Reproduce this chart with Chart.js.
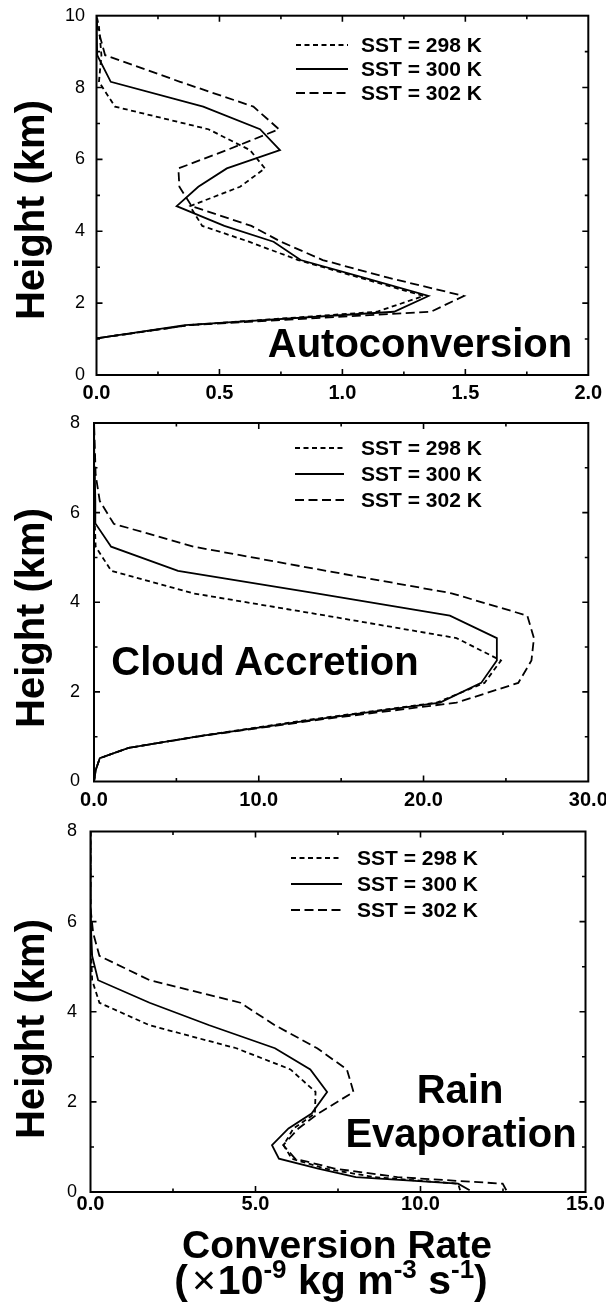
<!DOCTYPE html>
<html>
<head>
<meta charset="utf-8">
<script src="https://cdn.jsdelivr.net/npm/chart.js@4.4.1/dist/chart.umd.min.js"></script>
<style>
  html, body { margin: 0; padding: 0; background: #fff; }
  #fig { position: relative; width: 606px; height: 1308px; overflow: hidden; background: #fff; }
  #fig canvas { position: absolute; left: 0; }
  .lbl { position: absolute; white-space: nowrap; font-family: 'Liberation Sans', Arial, Helvetica, sans-serif;
         font-weight: bold; color: #000; line-height: 1; }
  .sup { font-size: 26px; position: relative; top: -16px; }
  .times { font-weight: normal; margin: 0 2px 0 4px; }
</style>
</head>
<body>
<div id="fig">
  <canvas id="c1" width="606" height="410" style="top:0px"></canvas>
  <canvas id="c2" width="606" height="410" style="top:410px"></canvas>
  <canvas id="c3" width="606" height="488" style="top:820px"></canvas>
</div>
<script>
// ---- Autoconversion (height in km, rate in 1e-9 kg m-3 s-1) ----
const autoHeights = [1.02, 1.39, 1.76, 2.2, 2.7, 3.2, 3.71, 4.15, 4.7, 5.24, 5.75, 6.26, 6.84, 7.47, 8.16, 8.9, 9.7, 10];
const auto298 = [0, 0.38, 1.14, 1.33, 1.075, 0.82, 0.62, 0.43, 0.38, 0.584, 0.685, 0.624, 0.455, 0.075, 0.01, 0.02, 0.01, 0];
const auto300 = [0, 0.36, 1.21, 1.35, 1.09, 0.83, 0.72, 0.52, 0.326, 0.414, 0.53, 0.746, 0.665, 0.434, 0.058, 0.003, 0, 0];
const auto302 = [0, 0.38, 1.36, 1.494, 1.19, 0.92, 0.75, 0.63, 0.387, 0.337, 0.333, 0.53, 0.742, 0.638, 0.34, 0.035, 0.003, 0];

// ---- Cloud accretion ----
const accHeights = [0, 0.25, 0.52, 0.75, 1.02, 1.39, 1.76, 2.2, 2.7, 3.2, 3.7, 4.2, 4.7, 5.24, 5.75, 6.26, 6.84, 7.47, 8];
const acc298 = [0, 0.1, 0.35, 2.1, 6.5, 13.3, 20.8, 23.7, 24.7, 22.0, 14.1, 6.0, 1.05, 0.1, 0.05, 0.03, 0.02, 0.01, 0];
const acc300 = [0, 0.1, 0.35, 2.1, 6.5, 13.6, 21.0, 23.5, 24.45, 24.45, 21.6, 13.5, 5.1, 1.04, 0.1, 0.08, 0.05, 0.02, 0];
const acc302 = [0, 0.1, 0.35, 2.1, 6.6, 13.9, 22.0, 25.75, 26.55, 26.7, 26.3, 21.7, 14.1, 6.05, 1.2, 0.35, 0.1, 0.05, 0];

// ---- Rain evaporation ----
const evapHeights = [0.04, 0.185, 0.33, 0.52, 0.74, 1.04, 1.41, 1.74, 2.22, 2.72, 3.19, 3.7, 4.2, 4.7, 5.24, 5.75, 6.3, 7.0, 8.0];
const evap298 = [11.2, 11.14, 8.6, 7.1, 6.1, 5.85, 6.15, 6.8, 6.82, 6.06, 4.42, 1.79, 0.27, 0.05, 0.02, 0, 0, 0, 0];
const evap300 = [11.49, 11.14, 8.04, 6.9, 5.71, 5.5, 6.0, 6.7, 7.17, 6.66, 5.59, 3.6, 1.79, 0.23, 0.05, 0.02, 0, 0, 0];
const evap302 = [12.6, 12.49, 9.3, 7.4, 6.2, 5.84, 6.3, 6.9, 7.97, 7.77, 6.87, 5.59, 4.54, 1.79, 0.27, 0.08, 0, 0, 0];

// ---- series labels and line styles ----
const seriesLabels = ['SST = 298 K', 'SST = 300 K', 'SST = 302 K'];
const seriesDash = [[5, 3.5], [], [9, 4.5]];

const FONT = "'Liberation Sans', Arial, Helvetica, sans-serif";
Chart.defaults.font.family = FONT;
Chart.defaults.color = '#000';

// Box frame with inward major/minor tick marks on all four sides
const frameTicks = {
  id: 'frameTicks',
  afterDatasetsDraw(chart, args, o) {
    const { ctx, chartArea: a, scales: { x, y } } = chart;
    ctx.save();
    ctx.strokeStyle = '#000';
    ctx.lineWidth = 1.6;
    ctx.beginPath();
    const nx = Math.round((x.max - x.min) / o.xMinor);
    for (let i = 1; i < nx; i++) {
      const v = x.min + i * o.xMinor;
      const px = x.getPixelForValue(v);
      const major = Math.abs(v / o.xMajor - Math.round(v / o.xMajor)) < 1e-6;
      const len = major ? 6 : 3.5;
      ctx.moveTo(px, a.bottom); ctx.lineTo(px, a.bottom - len);
      ctx.moveTo(px, a.top); ctx.lineTo(px, a.top + len);
    }
    const ny = Math.round((y.max - y.min) / o.yMinor);
    for (let i = 1; i < ny; i++) {
      const v = y.min + i * o.yMinor;
      const py = y.getPixelForValue(v);
      const major = Math.abs(v / o.yMajor - Math.round(v / o.yMajor)) < 1e-6;
      const len = major ? 6 : 3.5;
      ctx.moveTo(a.left, py); ctx.lineTo(a.left + len, py);
      ctx.moveTo(a.right, py); ctx.lineTo(a.right - len, py);
    }
    ctx.stroke();
    ctx.lineWidth = 2;
    ctx.strokeRect(a.left, a.top, a.right - a.left, a.bottom - a.top);
    ctx.restore();
  }
};

// Line-style key drawn inside the plot box
const lineKey = {
  id: 'lineKey',
  afterDatasetsDraw(chart, args, o) {
    const { ctx, chartArea: a } = chart;
    ctx.save();
    ctx.strokeStyle = '#000';
    ctx.fillStyle = '#000';
    ctx.lineWidth = 1.8;
    ctx.font = 'bold ' + o.size + 'px ' + FONT;
    ctx.textBaseline = 'middle';
    ctx.textAlign = 'left';
    chart.data.datasets.forEach((ds, i) => {
      const yy = a.top + o.y0 + i * o.dy;
      ctx.setLineDash(ds.borderDash || []);
      ctx.beginPath();
      ctx.moveTo(o.x1, yy); ctx.lineTo(o.x2, yy);
      ctx.stroke();
      ctx.setLineDash([]);
      ctx.fillText(ds.label, o.tx, yy + 1);
    });
    ctx.restore();
  }
};

function points(heights, rates) {
  return heights.map((h, i) => ({ x: rates[i], y: h }));
}

function makePanel(id, p) {
  const canvas = document.getElementById(id);
  const W = canvas.width, H = canvas.height;
  const datasets = p.series.map((vals, i) => ({
    label: seriesLabels[i],
    data: points(p.heights, vals),
    borderColor: '#000',
    borderWidth: 1.8,
    borderDash: seriesDash[i],
    pointRadius: 0,
    pointHoverRadius: 0,
    showLine: true,
    fill: false,
    tension: 0
  }));
  return new Chart(canvas, {
    type: 'scatter',
    data: { datasets },
    options: {
      responsive: false,
      animation: false,
      devicePixelRatio: 1,
      events: [],
      layout: { padding: { left: 0, top: p.area.top, right: W - p.area.right, bottom: 0 } },
      plugins: {
        legend: { display: false },
        tooltip: { enabled: false },
        frameTicks: { xMajor: p.xMajor, xMinor: p.xMinor, yMajor: p.yMajor, yMinor: p.yMinor },
        lineKey: p.key
      },
      scales: {
        x: {
          type: 'linear', min: 0, max: p.xMax,
          grid: { display: false, drawTicks: false },
          border: { display: false },
          ticks: {
            stepSize: p.xMajor, autoSkip: false, maxRotation: 0, padding: p.xPad,
            font: { size: 20, weight: 'bold' }, color: '#000',
            callback: v => Number(v).toFixed(1)
          },
          afterFit: s => { s.height = H - p.area.bottom; s.paddingLeft = 0; s.paddingRight = 0; }
        },
        y: {
          type: 'linear', min: 0, max: p.yMax,
          grid: { display: false, drawTicks: false },
          border: { display: false },
          ticks: {
            stepSize: p.yMajor, autoSkip: false, padding: p.yPad,
            font: { size: 18, weight: 'normal' }, color: '#000',
            callback: v => String(v)
          },
          afterFit: s => { s.width = p.area.left; s.paddingTop = 0; s.paddingBottom = 0; }
        }
      }
    },
    plugins: [frameTicks, lineKey]
  });
}

makePanel('c1', {
  heights: autoHeights, series: [auto298, auto300, auto302],
  xMax: 2, xMajor: 0.5, xMinor: 0.25, yMax: 10, yMajor: 2, yMinor: 1,
  area: { left: 96.5, right: 588.3, top: 15.7, bottom: 375 },
  xPad: 6.6, yPad: 11.5,
  key: { x1: 296, x2: 348, tx: 361, y0: 29.3, dy: 24, size: 21 }
});

makePanel('c2', {
  heights: accHeights, series: [acc298, acc300, acc302],
  xMax: 30, xMajor: 10, xMinor: 5, yMax: 8, yMajor: 2, yMinor: 1,
  area: { left: 94, right: 588.3, top: 13, bottom: 371.5 },
  xPad: 7, yPad: 14,
  key: { x1: 295, x2: 344, tx: 361, y0: 25, dy: 26, size: 21 }
});

makePanel('c3', {
  heights: evapHeights, series: [evap298, evap300, evap302],
  xMax: 15, xMajor: 5, xMinor: 2.5, yMax: 8, yMajor: 2, yMinor: 1,
  area: { left: 90.5, right: 585.5, top: 11.5, bottom: 372 },
  xPad: 0, yPad: 13.5,
  key: { x1: 291, x2: 342, tx: 357, y0: 26.5, dy: 26, size: 21 }
});

// ---- page text ----
const fig = document.getElementById('fig');
function addText(html, cx, baseline, size) {
  const d = document.createElement('div');
  d.className = 'lbl';
  d.style.fontSize = size + 'px';
  d.innerHTML = html;
  d.style.left = cx + 'px';
  d.style.top = (baseline - 0.8465 * size) + 'px';
  d.style.transform = 'translateX(-50%)';
  fig.appendChild(d);
  return d;
}
function addVertical(text, cx, cy, size) {
  const d = document.createElement('div');
  d.className = 'lbl';
  d.style.fontSize = size + 'px';
  d.textContent = text;
  d.style.left = cx + 'px';
  d.style.top = cy + 'px';
  d.style.transform = 'translate(-50%, -50%) rotate(-90deg)';
  fig.appendChild(d);
}

addText('Autoconversion', 420, 357, 40);
addText('Cloud Accretion', 265, 675, 40);
addText('Rain', 460, 1103, 40);
addText('Evaporation', 461, 1147, 40);

addVertical('Height (km)', 30, 210, 40);
addVertical('Height (km)', 30, 618, 40);
addVertical('Height (km)', 30, 1029, 40);

addText('Conversion Rate', 337, 1258, 39);
addText('(<span class="times">\u00d7</span>10<span class="sup">-9</span> kg m<span class="sup">-3</span> s<span class="sup">-1</span>)', 331, 1295, 41);
</script>
</body>
</html>
